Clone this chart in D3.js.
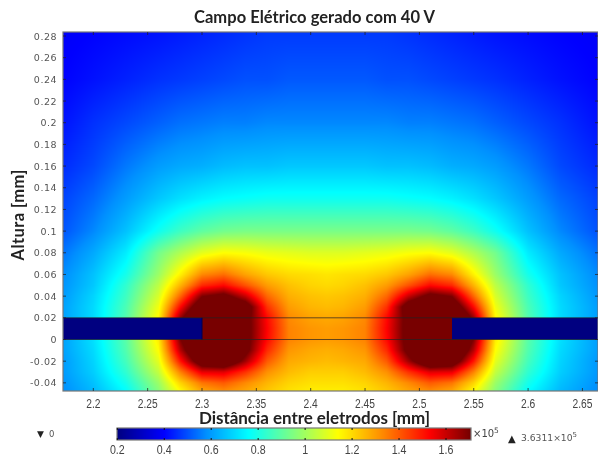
<!DOCTYPE html>
<html><head><meta charset="utf-8">
<script src="https://cdn.jsdelivr.net/npm/d3@7"></script>
<style>html,body{margin:0;padding:0;background:#fff}#c{position:absolute;left:0;top:0}svg{position:absolute;left:0;top:0}</style>
</head><body>
<canvas id="c" width="598" height="457"></canvas>
<svg id="s" width="598" height="457" font-family="DejaVu Sans"></svg>
<script>
const titleText = "Campo Elétrico gerado com 40 V";
const xLabel = "Distância entre eletrodos [mm]";
const yLabel = "Altura [mm]";
const xTicks = [2.2,2.25,2.3,2.35,2.4,2.45,2.5,2.55,2.6,2.65];
const yTicks = [0.28,0.26,0.24,0.22,0.2,0.18,0.16,0.14,0.12,0.1,0.08,0.06,0.04,0.02,0,-0.02,-0.04];
const barTicks = [0.2,0.4,0.6,0.8,1,1.2,1.4,1.6];
const colorStops = [0.2,0.4,0.58,0.76,0.95,1.14,1.32,1.53,1.7];
const colorValues = ["#000080","#0000ff","#0090ff","#00ffff","#80ff80","#ffff00","#ff9000","#ff0000","#780000"];
const electrodes = [[2.17,2.3],[2.53,2.665]];
const electrodeBand = [0,0.02];
const gridX = [2.17,2.20,2.23,2.26,2.28,2.30,2.32,2.34,2.36,2.38,2.40,2.415,2.43,2.45,2.47,2.49,2.51,2.53,2.55,2.57,2.60,2.63,2.665];
const gridY = [0.285,0.24,0.20,0.16,0.13,0.10,0.08,0.06,0.05,0.04,0.03,0.02,0.01,0,-0.01,-0.02,-0.03,-0.04,-0.05];
const field = [
[.39,.40,.41,.42,.43,.44,.45,.46,.47,.47,.47,.47,.47,.47,.47,.46,.45,.44,.43,.42,.41,.40,.39],
[.40,.42,.44,.46,.47,.48,.49,.50,.50,.51,.51,.51,.51,.51,.50,.50,.49,.48,.47,.46,.44,.42,.40],
[.42,.46,.49,.52,.54,.55,.56,.56,.57,.57,.57,.57,.57,.57,.57,.56,.56,.55,.54,.52,.49,.46,.42],
[.45,.49,.55,.60,.62,.63,.65,.66,.66,.67,.67,.67,.67,.67,.66,.66,.65,.63,.62,.60,.55,.49,.45],
[.48,.53,.60,.67,.71,.74,.76,.77,.78,.78,.78,.78,.78,.78,.78,.77,.76,.74,.71,.67,.60,.53,.48],
[.50,.57,.66,.78,.85,.90,.93,.94,.94,.94,.94,.94,.94,.94,.94,.94,.93,.90,.85,.78,.66,.57,.50],
[.54,.62,.73,.93,1.02,1.10,1.14,1.13,1.11,1.10,1.09,1.09,1.09,1.10,1.11,1.13,1.14,1.10,1.02,.93,.73,.62,.54],
[.57,.66,.79,.99,1.16,1.33,1.37,1.29,1.23,1.20,1.19,1.18,1.19,1.20,1.23,1.29,1.37,1.33,1.16,.99,.79,.66,.57],
[.58,.67,.83,1.04,1.26,1.47,1.52,1.41,1.30,1.24,1.21,1.20,1.21,1.24,1.30,1.41,1.52,1.47,1.26,1.04,.83,.67,.58],
[.59,.69,.85,1.08,1.38,1.69,1.75,1.60,1.38,1.27,1.24,1.23,1.24,1.27,1.38,1.60,1.75,1.69,1.38,1.08,.85,.69,.59],
[.60,.70,.87,1.12,1.52,1.85,1.90,1.80,1.46,1.30,1.26,1.25,1.26,1.30,1.46,1.80,1.90,1.85,1.52,1.12,.87,.70,.60],
[.60,.70,.88,1.15,1.66,2.00,2.00,1.76,1.52,1.33,1.29,1.28,1.29,1.33,1.52,1.76,2.00,2.00,1.66,1.15,.88,.70,.60],
[.60,.71,.89,1.17,1.72,2.00,2.00,1.76,1.53,1.34,1.31,1.30,1.31,1.34,1.53,1.76,2.00,2.00,1.72,1.17,.89,.71,.60],
[.60,.71,.89,1.17,1.69,2.00,2.00,1.76,1.52,1.34,1.31,1.30,1.31,1.34,1.52,1.76,2.00,2.00,1.69,1.17,.89,.71,.60],
[.60,.70,.88,1.14,1.62,1.95,2.00,1.75,1.47,1.31,1.28,1.27,1.28,1.31,1.47,1.75,2.00,1.95,1.62,1.14,.88,.70,.60],
[.59,.69,.86,1.10,1.50,1.82,1.87,1.65,1.40,1.28,1.26,1.25,1.26,1.28,1.40,1.65,1.87,1.82,1.50,1.10,.86,.69,.59],
[.59,.68,.83,1.05,1.34,1.56,1.57,1.46,1.32,1.25,1.22,1.22,1.22,1.25,1.32,1.46,1.57,1.56,1.34,1.05,.83,.68,.59],
[.58,.66,.79,.99,1.21,1.36,1.40,1.33,1.26,1.21,1.19,1.19,1.19,1.21,1.26,1.33,1.40,1.36,1.21,.99,.79,.66,.58],
[.57,.64,.75,.95,1.12,1.26,1.30,1.27,1.22,1.18,1.16,1.16,1.16,1.18,1.22,1.27,1.30,1.26,1.12,.95,.75,.64,.57]
];

const box = {l:63,r:598,t:32,b:391};
const x = d3.scaleLinear().domain([2.3,2.53]).range([202,452]);
const y = d3.scaleLinear().domain([0,0.28]).range([339.5,36]);
const color = d3.scaleLinear().domain(colorStops).range(colorValues).clamp(true);

const ctx = document.getElementById("c").getContext("2d");
ctx.fillStyle="#fff";ctx.fillRect(0,0,598,457);
const cx = d3.scaleLinear().domain(gridX).range(gridX.map((_,i)=>i)).clamp(true);
const cy = d3.scaleLinear().domain(gridY).range(gridY.map((_,i)=>i)).clamp(true);
for(let py=box.t;py<box.b;py++){
  const gy=cy(y.invert(py+.5));const j=Math.min(Math.floor(gy),gridY.length-2);const v=gy-j;
  for(let px=box.l;px<box.r;px++){
    const gx=cx(x.invert(px+.5));const i=Math.min(Math.floor(gx),gridX.length-2);const u=gx-i;
    const val=(field[j][i]*(1-u)+field[j][i+1]*u)*(1-v)+(field[j+1][i]*(1-u)+field[j+1][i+1]*u)*v;
    ctx.fillStyle=color(val);ctx.fillRect(px,py,1,1);
  }
}
const bar = d3.scaleLinear().domain([0.2,1.6]).range([117.3,446]);
const barEnd = 471;
for(let px=117;px<barEnd;px++){ctx.fillStyle=color(bar.invert(px+.5));ctx.fillRect(px,428,1,12);}

const svg = d3.select("#s");
const narrow = "Liberation Sans";
const bold = "Lato";
svg.selectAll("rect.el").data(electrodes).join("rect").attr("class","el")
  .attr("x",d=>Math.max(x(d[0]),box.l)).attr("width",d=>Math.min(x(d[1]),box.r)-Math.max(x(d[0]),box.l))
  .attr("y",y(electrodeBand[1])).attr("height",y(electrodeBand[0])-y(electrodeBand[1])).attr("fill","#000080");
svg.selectAll("line.band").data(electrodeBand).join("line").attr("class","band")
  .attr("x1",box.l).attr("x2",box.r).attr("y1",d=>y(d)).attr("y2",d=>y(d)).attr("stroke","#222").attr("stroke-opacity",.7).attr("stroke-width",1);
svg.append("line").attr("x1",x(2.3)).attr("x2",x(2.3)).attr("y1",y(.02)).attr("y2",y(0)).attr("stroke","#000050");
svg.append("rect").attr("x",box.l).attr("y",box.t).attr("width",box.r-box.l).attr("height",box.b-box.t).attr("fill","none").attr("stroke","#777").attr("stroke-width",1.2);
const tg=svg.append("g").attr("stroke","#222").attr("stroke-opacity",.75);
xTicks.forEach(t=>{tg.append("line").attr("x1",x(t)).attr("x2",x(t)).attr("y1",box.b).attr("y2",box.b-3);tg.append("line").attr("x1",x(t)).attr("x2",x(t)).attr("y1",box.t).attr("y2",box.t+3);});
yTicks.forEach(t=>{tg.append("line").attr("y1",y(t)).attr("y2",y(t)).attr("x1",box.l).attr("x2",box.l+3);tg.append("line").attr("y1",y(t)).attr("y2",y(t)).attr("x1",box.r-3).attr("x2",box.r);});
svg.selectAll("text.xt").data(xTicks).join("text").attr("class","xt").attr("transform",d=>`translate(${x(d)},408) scale(.82,1)`).attr("text-anchor","middle").attr("font-family",narrow).attr("font-size",12.5).attr("fill","#444").text(d=>d);
svg.selectAll("text.yt").data(yTicks).join("text").attr("class","yt").attr("x",57).attr("y",d=>y(d)+3.5).attr("text-anchor","end").attr("font-size",9.5).attr("letter-spacing",.5).attr("fill","#555").text(d=>d);
svg.append("text").attr("x",314.5).attr("y",23).attr("text-anchor","middle").attr("font-family",bold).attr("font-weight",700).attr("font-size",16.5).attr("textLength",241).attr("fill","#222").text(titleText);
svg.append("text").attr("x",314.5).attr("y",424).attr("text-anchor","middle").attr("font-family",bold).attr("font-weight",700).attr("font-size",17).attr("textLength",231).attr("fill","#222").text(xLabel);
svg.append("text").attr("transform","translate(24,215) rotate(-90)").attr("text-anchor","middle").attr("font-family",bold).attr("font-weight",700).attr("font-size",16.5).attr("textLength",91).attr("fill","#222").text(yLabel);
svg.append("rect").attr("x",117).attr("y",428).attr("width",barEnd-117).attr("height",12).attr("fill","none").attr("stroke","#777").attr("stroke-width",1.2);
const bg=svg.append("g").attr("stroke","#111");
barTicks.forEach(t=>{bg.append("line").attr("x1",bar(t)).attr("x2",bar(t)).attr("y1",428).attr("y2",430);bg.append("line").attr("x1",bar(t)).attr("x2",bar(t)).attr("y1",438).attr("y2",440);});
svg.selectAll("text.bt").data(barTicks).join("text").attr("class","bt").attr("transform",d=>`translate(${bar(d)},454) scale(.82,1)`).attr("text-anchor","middle").attr("font-family",narrow).attr("font-size",13).attr("fill","#444").text(d=>d);
svg.append("text").attr("x",473).attr("y",437).attr("font-size",10).attr("fill","#444").html('×10<tspan dy="-4" font-size="7.5">5</tspan>');
svg.append("text").attr("x",37).attr("y",437).attr("font-size",9).attr("fill","#222").text("▼");
svg.append("text").attr("x",49).attr("y",437).attr("font-size",8.5).attr("fill","#555").text("0");
svg.append("text").attr("x",508).attr("y",442).attr("font-size",10).attr("fill","#222").text("▲");
svg.append("text").attr("x",521).attr("y",441).attr("font-size",9.2).attr("fill","#555").html('3.6311×10<tspan dy="-4" font-size="7">5</tspan>');
</script>
</body></html>
